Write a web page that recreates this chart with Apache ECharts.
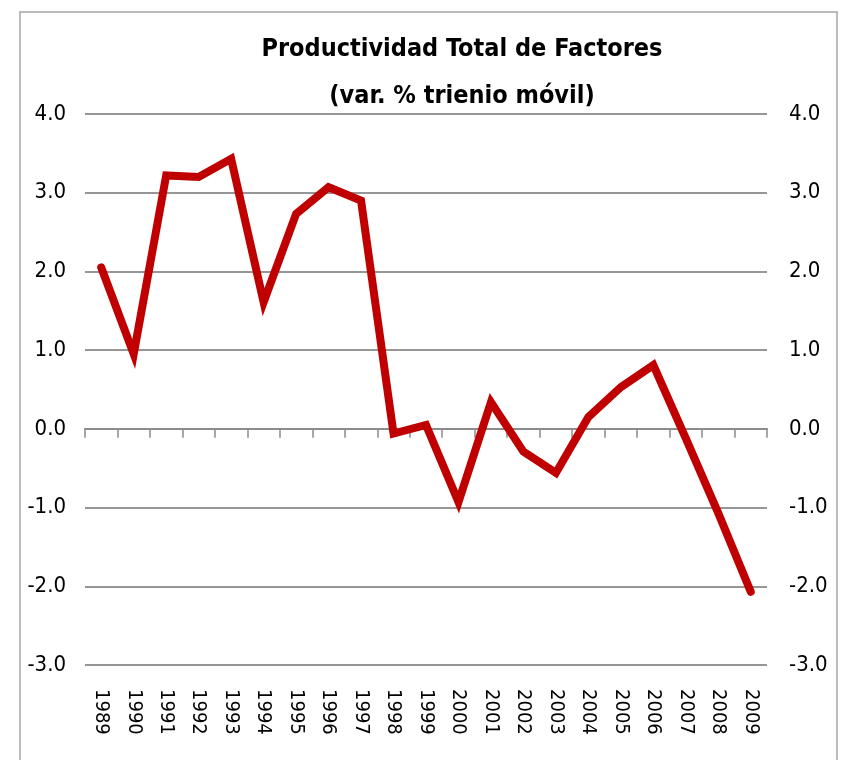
<!DOCTYPE html>
<html>
<head>
<meta charset="utf-8">
<script src="https://cdn.jsdelivr.net/npm/echarts@6/dist/echarts.min.js"></script>
<style>
  html, body { margin: 0; padding: 0; background: #fff; }
  #chart-container { width: 843px; height: 760px; }
</style>
</head>
<body>
<div id="chart-container"></div>
<script>
var dom = document.getElementById("chart-container");
var myChart = echarts.init(dom, null, { renderer: "canvas" });

// years on the x axis
var years = ["1989", "1990", "1991", "1992", "1993", "1994", "1995", "1996", "1997", "1998",
  "1999", "2000", "2001", "2002", "2003", "2004", "2005", "2006", "2007", "2008", "2009"];

// PTF, var. % trienio movil
var ptf = [2.05, 0.95, 3.22, 3.20, 3.43, 1.61, 2.73, 3.07, 2.90, -0.06,
  0.05, -0.93, 0.34, -0.29, -0.56, 0.15, 0.53, 0.81, -0.12, -1.07, -2.07];

var yMin = -3, yMax = 4, yStep = 1;

var font = "'DejaVu Sans Condensed', 'Open Sans', sans-serif";
var fmt = function (v) { return v.toFixed(1); };

var option = {
  backgroundColor: "#fff",
  graphic: [
    {
      type: "rect",
      shape: { x: 20, y: 12, width: 817, height: 760 },
      style: { fill: "none", stroke: "#a6a6a6", lineWidth: 1.5 }
    }
  ],
  title: {
    text: "Productividad Total de Factores\n(var. % trienio móvil)",
    left: 457,
    top: 21,
    textAlign: "center",
    textStyle: {
      fontFamily: font,
      fontWeight: "bold",
      fontSize: 25,
      lineHeight: 47,
      color: "#000"
    }
  },
  grid: { left: 85, right: 76, top: 114, bottom: 95 },
  xAxis: [
    {
      type: "category",
      data: years,
      boundaryGap: true,
      axisLine: { onZero: true, lineStyle: { color: "#8c8c8c", width: 2 } },
      axisTick: { show: true, interval: 0, length: 9, lineStyle: { color: "#8c8c8c", width: 1.5 } },
      axisLabel: { show: false }
    },
    {
      type: "category",
      data: years,
      position: "bottom",
      boundaryGap: true,
      axisLine: { show: false, onZero: false },
      axisTick: { show: false },
      axisLabel: {
        interval: 0,
        rotate: -90,
        margin: 24,
        fontFamily: font,
        fontSize: 20,
        color: "#000"
      }
    }
  ],
  yAxis: [
    {
      type: "value",
      min: yMin,
      max: yMax,
      interval: yStep,
      axisLine: { show: false },
      axisTick: { show: false },
      splitLine: { lineStyle: { color: "#969696", width: 2 } },
      axisLabel: { formatter: fmt, margin: 19, fontFamily: font, fontSize: 22, color: "#000" }
    },
    {
      type: "value",
      position: "right",
      min: yMin,
      max: yMax,
      interval: yStep,
      axisLine: { show: false },
      axisTick: { show: false },
      splitLine: { show: false },
      axisLabel: { formatter: fmt, margin: 22, fontFamily: font, fontSize: 22, color: "#000" }
    }
  ],
  series: [
    {
      name: "PTF",
      type: "line",
      data: ptf,
      xAxisIndex: 0,
      yAxisIndex: 0,
      symbol: "none",
      lineStyle: { color: "#c00000", width: 8, cap: "round", join: "miter" },
      animation: false
    }
  ]
};

myChart.setOption(option);
window.addEventListener("resize", myChart.resize);
</script>
</body>
</html>
